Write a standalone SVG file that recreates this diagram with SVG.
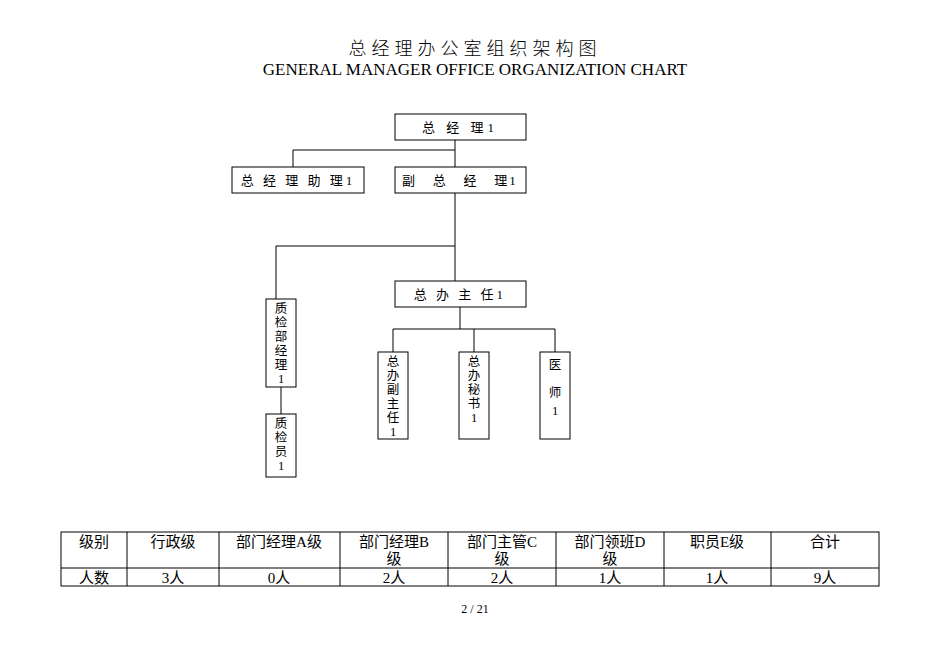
<svg xmlns="http://www.w3.org/2000/svg" width="950" height="672" viewBox="0 0 950 672">
<style>
text{font-family:"Liberation Serif","Noto Sans CJK SC",serif;fill:#000}
.b{fill:#fff;stroke:#000;stroke-width:1}
.n{font-size:13px;text-anchor:middle}
.v{font-size:12.5px;text-anchor:middle}
.t{font-size:15px;text-anchor:middle}
line,path{stroke:#000;stroke-width:1;fill:none}
</style>
<rect width="950" height="672" fill="#fff"/>
<text x="475" y="55" font-size="18" font-weight="300" text-anchor="middle" letter-spacing="5">总经理办公室组织架构图</text>
<text x="475" y="75" font-size="17" text-anchor="middle">GENERAL MANAGER OFFICE ORGANIZATION CHART</text>
<g id="connectors">
<path d="M455 140V167M293 167V150H455"/>
<path d="M455 193V281M276 299V246H455"/>
<path d="M460 307V329M393 352V329H555V352M474 329V352"/>
<path d="M281 387V414"/>
</g>
<g id="gm"><rect class="b" x="395" y="114" width="131" height="26"/><text class="n" x="460" y="132" letter-spacing="4">总 经 理1</text></g>
<g id="asst"><rect class="b" x="232" y="167" width="132" height="26"/><text class="n" x="298" y="185" letter-spacing="3">总 经 理 助 理1</text></g>
<g id="dgm"><rect class="b" x="395" y="167" width="131" height="26"/><text class="n" x="460" y="185" xml:space="preserve" letter-spacing="2">副   总   经   理1</text></g>
<g id="dir"><rect class="b" x="395" y="281" width="131" height="26"/><text class="n" x="460" y="299" letter-spacing="3">总 办 主 任1</text></g>
<g id="qcm"><rect class="b" x="266" y="299" width="30" height="88"/>
<text class="v" x="281" y="313">质</text><text class="v" x="281" y="327">检</text><text class="v" x="281" y="341">部</text><text class="v" x="281" y="355">经</text><text class="v" x="281" y="369">理</text><text class="v" x="281" y="383">1</text></g>
<g id="qc"><rect class="b" x="266" y="414" width="30" height="63"/>
<text class="v" x="281" y="428">质</text><text class="v" x="281" y="442">检</text><text class="v" x="281" y="456">员</text><text class="v" x="281" y="470">1</text></g>
<g id="vdir"><rect class="b" x="378" y="352" width="30" height="87"/>
<text class="v" x="393" y="366">总</text><text class="v" x="393" y="380">办</text><text class="v" x="393" y="394">副</text><text class="v" x="393" y="408">主</text><text class="v" x="393" y="422">任</text><text class="v" x="393" y="436">1</text></g>
<g id="sec"><rect class="b" x="459" y="352" width="30" height="87"/>
<text class="v" x="474" y="366">总</text><text class="v" x="474" y="380">办</text><text class="v" x="474" y="394">秘</text><text class="v" x="474" y="408">书</text><text class="v" x="474" y="422">1</text></g>
<g id="doc"><rect class="b" x="540" y="352" width="30" height="87"/>
<text class="v" x="555" y="369">医</text><text class="v" x="555" y="397">师</text><text class="v" x="555" y="415">1</text></g>
<g id="table">
<rect class="b" x="61" y="532" width="818" height="54"/>
<path d="M61 568H879M127 532V586M219 532V586M340 532V586M448 532V586M556 532V586M664 532V586M771 532V586"/>
<text class="t" x="94" y="547">级别</text>
<text class="t" x="173" y="547">行政级</text>
<text class="t" x="279" y="547">部门经理A级</text>
<text class="t" x="394" y="547">部门经理B</text><text class="t" x="394" y="564">级</text>
<text class="t" x="502" y="547">部门主管C</text><text class="t" x="502" y="564">级</text>
<text class="t" x="610" y="547">部门领班D</text><text class="t" x="610" y="564">级</text>
<text class="t" x="717" y="547">职员E级</text>
<text class="t" x="825" y="547">合计</text>
<text class="t" x="94" y="583">人数</text>
<text class="t" x="173" y="583">3人</text>
<text class="t" x="279" y="583">0人</text>
<text class="t" x="394" y="583">2人</text>
<text class="t" x="502" y="583">2人</text>
<text class="t" x="610" y="583">1人</text>
<text class="t" x="717" y="583">1人</text>
<text class="t" x="825" y="583">9人</text>
</g>
<text x="475" y="613" font-size="12" text-anchor="middle">2 / 21</text>
</svg>
